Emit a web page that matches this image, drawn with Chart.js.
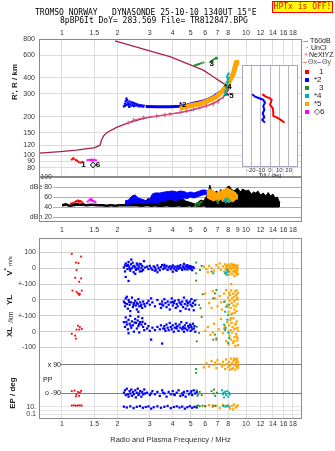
<!DOCTYPE html>
<html><head><meta charset="utf-8">
<script src="https://cdn.jsdelivr.net/npm/chart.js@4.4.1/dist/chart.umd.min.js"></script>
<style>
html,body{margin:0;padding:0;background:#fff;}
#wrap{position:relative;width:335px;height:451px;overflow:hidden;background:#fff;}
#wrap canvas{position:absolute;left:0;top:0;}
.t{position:absolute;white-space:pre;font-family:"Liberation Sans",Arial,sans-serif;font-size:7px;line-height:8px;color:#222;}
.m{position:absolute;white-space:pre;font-family:"DejaVu Sans Mono",monospace;font-size:8px;line-height:9px;color:#000;}
.r{transform:translate(-50%,-50%) rotate(-90deg);}
.sq{position:absolute;width:4px;height:4px;}
.ln{position:absolute;height:1px;}
</style></head><body><div id="wrap">
<canvas id="cMain" width="335" height="451"></canvas>
<canvas id="cDb" width="335" height="451"></canvas>
<canvas id="cLow" width="335" height="451"></canvas>
<canvas id="cTilt" width="335" height="451"></canvas>

<div class="m" style="left:35px;top:8px">TROMSO NORWAY   DYNASONDE 25-10-10 1340UT 15°E</div>
<div class="m" style="left:60px;top:16px">8pBP6It DoY= 283.569 File= TR812847.BPG</div>
<div class="m" style="left:272px;top:1px;width:59px;height:10px;background:#ff0;border:1px solid #f00;color:#f00;text-align:center;line-height:10px">HPTx is OFF!</div>

<div class="ln" style="left:303px;top:41px;width:5px;background:#999"></div>
<div class="t" style="left:310px;top:37px">T60dB</div>
<div class="t" style="left:306px;top:44px">·</div>
<div class="t" style="left:311px;top:44px">UnCl</div>
<div class="t" style="left:304px;top:51px;color:#e0508a">+</div>
<div class="t" style="left:309px;top:51px">NeXtYZ</div>
<div class="ln" style="left:303px;top:62px;width:4px;background:#f08080"></div>
<div class="t" style="left:308px;top:58px;color:#555">Θx</div>
<div class="ln" style="left:317px;top:62px;width:4px;background:#8080f0"></div>
<div class="t" style="left:322px;top:58px;color:#555">Θy</div>
<div class="sq" style="left:305px;top:70px;background:#f00"></div><div class="t" style="left:319px;top:68px;font-size:8px">1</div>
<div class="sq" style="left:305px;top:78px;background:#00f"></div><div class="t" style="left:314px;top:76px;font-size:8px">*2</div>
<div class="sq" style="left:305px;top:86px;background:#228b22"></div><div class="t" style="left:319px;top:84px;font-size:8px">3</div>
<div class="sq" style="left:305px;top:94px;background:#00b0b0"></div><div class="t" style="left:314px;top:92px;font-size:8px">*4</div>
<div class="sq" style="left:305px;top:102px;background:#ffa500"></div><div class="t" style="left:314px;top:100px;font-size:8px">*5</div>
<div class="sq" style="left:305px;top:110px;background:#f0f"></div><div class="t" style="left:314px;top:108px;font-size:8px">◇6</div>

<div class="t r" style="left:15px;top:82px;font-size:8px;font-weight:bold">R', R / km</div>
<div class="t r" style="left:8px;top:266px;font-size:8px;font-weight:bold">V<sup style="font-size:6px">*</sup> <span style="font-size:6px;font-weight:normal">m/s</span></div>
<div class="t r" style="left:10px;top:300px;font-size:8px;font-weight:bold">YL</div>
<div class="t r" style="left:11px;top:317px;font-size:7px">/km</div>
<div class="t r" style="left:10px;top:332px;font-size:8px;font-weight:bold">XL</div>
<div class="t r" style="left:13px;top:393px;font-size:8px;font-weight:bold">EP / deg</div>
<div class="t" style="left:43px;top:376px;font-size:7px">PP</div>
<div class="t" style="left:40px;top:361px;width:21px;background:#fff;text-align:right">x 90</div>
<div class="t" style="left:40px;top:389px;width:21px;background:#fff;text-align:right">o -90</div>
</div>
<script>
// ---------- axes / ticks ----------
const freqTicksTop = [1,1.5,2,3,4,5,6,7,8,10,12,14,16,18];
const freqTicksMid = [1,1.5,2,3,4,5,6,7,8,9,10,12,14,16,18];
const heightTicks = [80,90,100,120,150,200,300,400,600,800];
const dbTicks = [20,40,60,80,100];
const dbTickLabels = ['dBn 20','40','60','dBe 80','100'];
const tiltTicks = [-20,-10,0,10,20];
const lowerTickLabels = ['100','0','+-100','0','+-100','0','-100','x 90','o -90','10.','1','0.1'];

// ---------- main panel: profile & traces ----------
const profileFreq   = [0.75,0.98,1.2,1.51,1.61,1.64,1.68,1.75,1.98,2.25,2.77,3.27,3.86,4.38,5.0,5.62,6.3,6.93,7.4,7.69,8.0,8.05,7.8,7.53,6.64,5.86,4.76,3.86,3.41,1.94];
const profileHeight = [104,107,110,115,120,132,141,150,165,177,194,202,209,215,224,234,246,262,278,294,322,340,352,362,408,459,518,583,612,772];
const nexFreq   = [2.29,2.44,2.77,3.27,3.63,3.86,4.38,4.76,5.17,5.62,6.1,6.64,7.07,7.53];
const nexHeight = [179,188,196,202,206,209,216,222,228,235,242,251,262,285];
const oTraceFreq   = [2.85,3.3,3.86,4.38,4.8,5.17,5.5,5.86,6.2,6.64,7.07,7.3,7.53,7.69];
const oTraceHeight = [240,238,239,241,246,254,259,264,272,285,303,312,321,341];
const oBlob = [[2.17,240],[2.2,252],[2.22,263],[2.24,276],[2.26,268],[2.28,256],[2.3,246],[2.33,262],[2.35,251],[2.38,243],[2.4,258],[2.43,248],[2.46,241],[2.5,252],[2.53,244],[2.56,249],[2.6,241],[2.63,246],[2.67,240],[2.7,245],[2.75,239],[2.78,243],[2.2,243],[2.25,247],[2.32,238],[2.45,255]];
const xTraceFreq   = [4.38,4.8,5.17,5.5,5.86,6.2,6.64,7.0,7.21,7.45,7.69,7.95,8.18,8.4,8.53,8.65,8.73,8.85,8.9];
const xTraceHeight = [232,240,246,250,256,265,277,290,303,316,331,355,384,410,433,460,488,520,549];
const cyanMain  = [[7.7,300],[7.75,318],[7.8,336],[7.9,352],[7.85,370],[7.95,388],[7.9,405],[7.95,420],[8.05,432],[7.72,310],[8.1,345],[7.8,295],[8.0,372],[7.88,326],[8.02,398]];
const greenMain = [[5.28,500],[5.4,505],[5.55,512],[5.7,518],[5.86,525],[6.4,530],[6.5,540],[6.6,550],[6.75,560],[6.9,572],[6.95,565],[5.5,508],[6.45,535],[6.85,568]];
const redMain   = [[1.13,93],[1.16,94],[1.19,92],[1.21,91],[1.23,89],[1.26,88],[1.29,89],[1.15,95]];
const magMain   = [[1.38,92],[1.41,92.5],[1.44,91.5],[1.47,92],[1.5,92.5],[1.53,91.5],[1.45,93]];
const echoLabelText   = ['1','◇6','*2','3','*4','*5'];
const echoLabelFreq   = [1.31,1.51,4.53,6.52,7.97,8.18];
const echoLabelHeight = [85,85,246,518,341,289];

// ---------- tilt inset ----------
const tiltBlueDeg = [-19,-16,-11.5,-7.2,-5.4,-7.2,-6.1,-7.8,-6.1,-8.3,-5.4];
const tiltBlueH   = [298,285,277,269,256,241,225,212,197,188,179];
const tiltRedDeg  = [-8.3,-4.6,0,1.8,0,2.9,3.5,3.5,7.2,10.8,14.3,15.4];
const tiltRedH    = [298,285,277,269,246,232,218,202,197,190,182,179];

// ---------- amplitude panel (dB) ----------
const noiseFreq = [1.0,1.05,1.1,1.15,1.2,1.25,1.3,1.35,1.45,1.55,1.65,1.75,1.85,1.95,2.05,2.15,2.25,2.4,2.55,2.7,2.85,2.95,3.05,3.2,3.35,3.5,3.7,3.85,3.95,4.1,4.3,4.5,4.7,4.9,5.1,5.3,5.5,5.7,5.9,6.1,6.25,6.35,6.5,6.7,6.9,7.1,7.3,7.5,7.7,7.9,8.1,8.3,8.6,9.0,9.3,9.6,10,10.3,10.7,11,11.3,11.6,12,12.4,12.8,13.2,13.6,14,14.4,14.8,15.1,15.3];
const noiseTop  = [45,47,44,46,47,46,47,45,46,45,45,44,45,44,45,45,46,47,48,50,52,58,50,52,50,53,55,60,54,52,56,58,52,50,48,46,50,54,52,62,70,84,72,66,72,68,75,70,72,80,82,76,72,78,70,76,72,74,66,70,68,72,64,68,62,69,62,66,58,60,52,48];
const noiseBottom = [42,43,41,42,43,43,43,42,43,42,42,41,42,41,42,42,42,42,42,41,42,42,41,42,41,41,42,41,41,41,42,41,41,42,41,42,41,41,42,40,40,40,40,40,40,40,40,40,40,40,40,40,40,40,40,40,40,40,40,40,40,40,40,40,40,40,40,40,40,40,40,42];
const blueDbFreq   = [2.2,2.3,2.4,2.5,2.6,2.7,2.8,2.9,3.0,3.1,3.2,3.4,3.6,3.8,4.0,4.2,4.4,4.6,4.8,5.0,5.2,5.4,5.6,5.8,6.0,6.2];
const blueDbTop    = [52,54,62,64,58,56,54,52,56,66,68,68,70,71,72,70,72,71,68,70,68,70,72,74,74,72];
const blueDbBottom = [46,45,47,48,47,48,47,48,50,49,48,50,52,55,54,53,56,58,57,60,58,60,62,64,65,66];
const orangeDbFreq   = [6.1,6.3,6.5,6.7,6.9,7.1,7.3,7.5,7.7,7.9,8.1,8.3,8.5,8.7,8.9,9.05];
const orangeDbTop    = [70,76,74,72,68,70,72,74,76,78,76,74,72,70,66,62];
const orangeDbBottom = [60,56,54,52,55,52,56,50,54,52,48,52,50,54,56,56];
const greenDb = [[5.3,44],[5.35,46],[5.45,48],[5.55,47],[5.65,49],[5.75,50],[5.5,43],[5.6,45],[6.95,52],[7.0,50],[7.05,48]];
const cyanDb  = [[7.6,52],[7.7,56],[7.8,54],[7.9,58],[8.0,55],[8.1,50],[7.75,49],[8.15,53],[7.85,51]];
const redDb   = [[1.12,47],[1.15,48],[1.18,50],[1.2,52],[1.22,53],[1.25,52],[1.27,51],[1.29,49],[1.23,50]];
const magDb   = [[1.38,51],[1.41,54],[1.43,56],[1.45,55],[1.47,52],[1.5,51],[1.52,49],[1.44,53]];

// ---------- lower panel: V* (m/s), YL (km), XL (km), PP (deg), EP (deg) ----------
const redV  = [[1.13,91],[1.27,74],[1.19,36],[1.23,32],[1.2,-11],[1.18,-60],[1.27,-64],[1.24,-85]];
const redYL = [[1.14,59],[1.2,52],[1.22,42],[1.25,38],[1.28,59],[1.24,32]];
const redXL = [[1.22,38],[1.25,30],[1.28,17],[1.2,13],[1.24,13],[1.13,-13],[1.18,-25],[1.19,-44]];
const redPP = [[1.13,-75],[1.17,-72],[1.2,-95],[1.22,-80],[1.25,-85],[1.27,-73],[1.24,-105],[1.19,-108]];
const redEP = [[1.13,20],[1.16,22],[1.19,18],[1.22,20],[1.25,22],[1.28,19]];

const blueV = [[2.17,5],[2.2,-20],[2.22,30],[2.25,15],[2.27,-5],[2.3,40],[2.32,10],[2.35,-15],[2.37,25],[2.4,0],[2.42,35],[2.45,-25],[2.47,15],[2.5,5],[2.52,-10],[2.55,30],[2.57,20],[2.6,-5],[2.62,10],[2.65,-20],[2.68,25],[2.7,0],[2.73,15],[2.76,-10],[2.79,45],[2.82,5],[2.22,-55],[2.3,-80],[2.38,55],[2.5,-35],[2.2,18],[2.28,22],[2.34,-4],[2.44,12],[2.56,-2],[2.64,28],[2.72,-18],
 [2.9,10],[2.95,-5],[3.0,15],[3.05,0],[3.1,-10],[3.15,12],[3.2,5],[3.25,-8],[3.3,18],[3.35,2],[3.4,-12],[3.45,8],[3.5,20],[3.55,-5],[3.6,10],[3.65,0],[3.7,15],[3.75,-10],[3.8,5],[3.85,12],[3.9,-6],[3.95,8],[4.0,18],[4.05,-2],[4.1,10],[4.15,-12],[4.2,4],[4.25,14],[4.3,-4],[4.35,8],[4.4,20],[4.45,0],[4.5,-10],[4.55,12],[4.6,3],[4.65,-6],[4.7,16],[4.75,6],[4.8,-8],[4.85,10],[4.9,0],[4.95,14],[5.0,-4],[5.05,6],[5.1,-12],[5.15,8],[5.2,2],[3.3,-25],[4.0,-22],[4.6,28],[3.6,22],[4.2,-15],[4.8,20],[5.0,12],[3.2,-15]];
const blueYL = [[2.17,-10],[2.2,-40],[2.22,10],[2.25,-25],[2.28,-55],[2.3,0],[2.33,-30],[2.35,-70],[2.38,-15],[2.4,15],[2.43,-45],[2.46,-20],[2.5,-5],[2.52,-35],[2.55,-60],[2.58,-25],[2.6,5],[2.63,-40],[2.66,-15],[2.7,-30],[2.73,-50],[2.76,-10],[2.8,-25],[2.83,-40],[2.25,20],[2.6,-75],[2.2,-20],[2.32,-12],[2.45,-32],[2.55,-18],[2.68,-38],
 [2.9,-20],[2.95,-5],[3.0,-30],[3.05,10],[3.1,-15],[3.2,-40],[3.3,0],[3.4,-25],[3.45,-50],[3.5,-10],[3.55,-35],[3.6,5],[3.65,-20],[3.7,-45],[3.75,-10],[3.8,-30],[3.85,-60],[3.9,-15],[3.95,10],[4.0,-35],[4.05,-20],[4.1,-5],[4.15,-50],[4.2,-25],[4.25,-40],[4.3,0],[4.35,-15],[4.4,-70],[4.45,-30],[4.5,-10],[4.55,-45],[4.6,15],[4.65,-25],[4.7,-55],[4.75,-5],[4.8,-35],[4.85,-20],[4.9,-60],[4.95,-10],[5.0,-30],[5.05,5],[5.1,-40],[5.15,-20],[5.2,-65],[5.25,-5],[5.3,-30],[3.5,-28],[4.0,-12],[4.4,-22],[4.8,-15]];
const blueXL = [[2.17,60],[2.2,30],[2.22,90],[2.25,45],[2.28,15],[2.3,75],[2.33,50],[2.35,100],[2.38,25],[2.4,65],[2.43,40],[2.46,0],[2.5,80],[2.52,55],[2.55,20],[2.58,70],[2.6,35],[2.63,-5],[2.66,60],[2.7,45],[2.73,85],[2.76,30],[2.8,10],[2.83,50],[2.3,-10],[2.6,95],[2.24,62],[2.36,38],[2.48,58],[2.62,48],[2.74,62],
 [2.9,20],[2.95,35],[3.0,5],[3.05,-50],[3.1,25],[3.2,10],[3.3,30],[3.4,15],[3.45,40],[3.5,-75],[3.55,20],[3.6,35],[3.65,5],[3.7,45],[3.75,25],[3.8,10],[3.85,55],[3.9,30],[3.95,15],[4.0,40],[4.05,0],[4.1,25],[4.15,50],[4.2,20],[4.25,35],[4.3,5],[4.35,45],[4.4,25],[4.45,60],[4.5,15],[4.55,30],[4.6,0],[4.65,40],[4.7,20],[4.75,55],[4.8,10],[4.85,35],[4.9,25],[4.95,45],[5.0,5],[5.05,30],[5.1,15],[5.15,50],[5.2,20],[5.25,35],[5.3,0],[3.6,18],[4.2,32],[4.6,22],[5.0,40]];
const bluePP = [[2.17,-85],[2.2,-70],[2.22,-100],[2.25,-60],[2.28,-95],[2.3,-110],[2.33,-75],[2.35,-90],[2.38,-65],[2.4,-105],[2.43,-80],[2.46,-95],[2.5,-70],[2.52,-115],[2.55,-85],[2.58,-60],[2.6,-100],[2.63,-90],[2.66,-75],[2.7,-110],[2.73,-80],[2.76,-95],[2.8,-65],[2.83,-90],
 [2.9,-85],[3.0,-100],[3.1,-75],[3.2,-95],[3.3,-80],[3.4,-105],[3.5,-70],[3.6,-90],[3.7,-110],[3.8,-80],[3.9,-95],[4.0,-75],[4.1,-100],[4.2,-85],[4.3,-70],[4.4,-105],[4.5,-90],[4.6,-80],[4.7,-110],[4.8,-75],[4.9,-95],[5.0,-85],[5.1,-100],[5.2,-70],[5.3,-90],[5.4,-80],[3.05,-90],[3.55,-85],[4.05,-95],[4.55,-100],[5.05,-75]];
const blueEP = [[2.17,10],[2.25,6],[2.35,12],[2.45,4],[2.55,9],[2.65,14],[2.75,5],[2.85,8],[2.95,11],[3.05,3],[3.15,7],[3.3,12],[3.45,5],[3.6,9],[3.75,15],[3.9,4],[4.05,8],[4.2,12],[4.35,6],[4.5,10],[4.65,3],[4.8,7],[4.95,13],[5.1,5],[5.25,9],[5.4,6]];

const greenV  = [[5.36,36],[5.36,-32],[5.36,-78],[5.74,15],[5.62,-11],[6.5,-21],[6.64,-32]];
const greenYL = [[5.82,36],[5.36,0],[5.56,-32],[6.78,42],[6.64,11],[6.9,63],[5.66,-52]];
const greenXL = [[5.74,93],[5.4,30],[5.56,-8],[5.4,-61],[6.64,-50],[6.78,-19],[6.9,-50]];
const greenPP = [[5.4,-70],[5.5,-95],[5.6,-80],[5.75,-100],[6.5,-75],[6.65,-90],[6.8,-105],[6.95,-85],[5.45,-105],[6.7,-65],[5.36,65],[5.36,40]];
const greenEP = [[5.4,15],[5.5,20],[5.6,12],[5.8,18],[6.0,14],[6.6,20],[6.8,16]];

const cyanV  = [[7.69,-32],[7.86,-42],[8.0,-21],[7.9,-10],[7.8,-25]];
const cyanYL = [[7.6,-11],[7.8,-42],[7.7,-74],[8.0,-95],[8.1,-30]];
const cyanXL = [[7.9,76],[7.6,44],[7.75,23],[8.05,-8],[8.1,-40],[8.0,-71],[7.7,10]];
const cyanPP = [[7.4,-70],[7.5,-95],[7.6,-115],[7.7,-80],[7.8,-100],[7.9,-75],[8.0,-110],[8.1,-85],[8.15,-95],[7.55,-85]];
const cyanEP = [[7.5,15],[7.7,12],[7.9,18],[8.1,10]];

const orangeV  = [[5.9,10],[6.1,-5],[6.3,15],[6.5,0],[6.7,-15],[6.9,20],[7.1,5],[7.3,-10],[7.5,12],[7.6,-20],[7.7,25],[7.75,-5],[7.8,10],[7.85,-30],[7.9,18],[7.95,2],[8.0,-12],[8.05,24],[8.1,-40],[8.15,8],[8.2,-22],[8.25,15],[8.3,-5],[8.35,28],[8.4,-35],[8.45,0],[8.5,20],[8.55,-18],[8.6,10],[8.65,-48],[8.7,22],[8.75,-8],[8.8,14],[8.85,-28],[8.9,5],[8.95,-15],[9.0,18],[9.05,-35],[8.3,-100],[6.2,-25],[7.2,30],[8.7,-25],[8.9,-40],[8.5,5],[8.8,-5],[8.6,-20],[9.0,0]];
const orangeYL = [[6.0,40],[6.3,-20],[6.6,55],[6.8,10],[7.0,-40],[7.2,25],[7.4,-60],[7.6,40],[7.7,-10],[7.8,62],[7.9,-30],[8.0,15],[8.05,-75],[8.1,45],[8.15,-5],[8.2,30],[8.25,-50],[8.3,60],[8.35,-20],[8.4,10],[8.45,-85],[8.5,40],[8.55,-35],[8.6,20],[8.65,-60],[8.7,55],[8.75,0],[8.8,-40],[8.85,30],[8.9,-70],[8.95,15],[9.0,-25],[9.05,45],[8.3,-90],[8.6,-10],[8.9,60],[7.3,-15],[6.5,-50],[8.0,-45],[8.7,-80],[9.0,5],[8.8,35]];
const orangeXL = [[6.0,5],[6.2,30],[6.4,-20],[6.7,50],[6.9,-40],[7.1,15],[7.3,80],[7.5,-10],[7.7,35],[7.8,-60],[7.9,60],[8.0,0],[8.05,-80],[8.1,40],[8.15,-25],[8.2,75],[8.25,10],[8.3,-50],[8.35,55],[8.4,-5],[8.45,30],[8.5,-70],[8.55,85],[8.6,15],[8.65,-35],[8.7,45],[8.75,-90],[8.8,20],[8.85,-15],[8.9,65],[8.95,-55],[9.0,25],[9.05,-85],[9.05,5],[8.6,-60],[8.9,-30],[7.6,20],[8.3,85],[6.6,-5],[9.0,-40],[8.8,50]];
const orangePP = [[5.9,75],[6.1,100],[6.3,80],[6.5,115],[6.7,90],[6.9,70],[7.0,120],[7.2,95],[7.4,80],[7.5,110],[7.7,65],[7.8,125],[7.9,95],[8.0,75],[8.1,110],[8.2,85],[8.3,130],[8.4,100],[8.5,70],[8.55,115],[8.6,90],[8.7,125],[8.75,60],[8.8,105],[8.85,80],[8.9,120],[8.95,95],[9.0,70],[9.05,110],[8.2,60],[8.6,130],[7.6,90],[6.8,105],[8.4,65],[8.95,130],[9.05,85]];
const orangeEP = [[6.0,12],[6.3,25],[6.6,8],[6.9,18],[7.2,4],[7.5,30],[7.8,10],[8.0,20],[8.2,3],[8.4,15],[8.6,40],[8.8,6],[9.0,22],[8.5,2],[8.9,10]];

// ---------- colours ----------
const C = {red:'#ff0000', blue:'#0000ff', green:'#228b22', cyan:'#00b0b0', orange:'#ffa500', mag:'#ff00ff', prof:'#a8204a', nex:'#e0508a'};

// ---------- helpers ----------
const P  = arr => arr.map(([x,y]) => ({x, y}));
const XY = (xs, ys) => xs.map((x,i) => ({x, y: ys[i]}));
const font7 = {family:'Liberation Sans', size:7};
const tickColor = '#333';
const setTicks = vals => (scale => { scale.ticks = vals.map(v => ({value: v})); });
const fixW = w => (s => { s.width = w; });
const fixH = h => (s => { s.height = h; });
// lower panel row layout (units of 100 on one shared axis)
const rowBase = {V:0, YL:-2, XL:-4, PP:-7};
const epU = e => -8.97 + 0.24 * Math.log10(e);
const lowerTickVals = [1,0,-1,-2,-3,-4,-5,rowBase.PP+0.9,rowBase.PP-0.9,epU(10),epU(1),epU(0.1)];

const framePlugin = {
  id: 'frame',
  beforeDraw(chart, args, o) {
    if (!o || !o.fill) return;
    const a = chart.chartArea, ctx = chart.ctx;
    ctx.save(); ctx.fillStyle = o.fill;
    ctx.fillRect(a.left, a.top, a.right - a.left, a.bottom - a.top);
    ctx.restore();
  },
  afterDatasetsDraw(chart, args, o) {
    const a = chart.chartArea, ctx = chart.ctx;
    const l = (o && o.left !== undefined) ? o.left : a.left;
    ctx.save();
    ctx.strokeStyle = (o && o.color) || '#8a8a8a'; ctx.lineWidth = 1;
    ctx.strokeRect(Math.round(l) + 0.5, Math.round(a.top) + 0.5, Math.round(a.right - l) - 1, Math.round(a.bottom - a.top) - 1);
    ctx.restore();
  }
};
const textPlugin = {
  id: 'dataText',
  afterDatasetsDraw(chart, args, o) {
    if (!o || !o.text) return;
    const {ctx, scales: {x, y}} = chart;
    ctx.save();
    ctx.font = 'bold 8px "Liberation Sans"'; ctx.fillStyle = '#000';
    ctx.textAlign = 'center'; ctx.textBaseline = 'middle';
    o.text.forEach((t, i) => ctx.fillText(t, x.getPixelForValue(o.f[i]), y.getPixelForValue(o.h[i])));
    ctx.restore();
  }
};
const base = {
  responsive: false, animation: false, events: [],
  plugins: {legend: {display: false}, tooltip: {enabled: false}}
};
const pt = (data, color, r, order) => ({data, backgroundColor: color, borderWidth: 0, pointStyle: 'rect', pointRadius: r, order});
const line = (data, color, w, order, extra) => Object.assign({data, borderColor: color, backgroundColor: color, borderWidth: w, pointRadius: 0, showLine: true, tension: 0, order}, extra || {});

// ---------- main chart ----------
new Chart(document.getElementById('cMain'), {
  type: 'scatter',
  data: {datasets: [
    line(XY(profileFreq, profileHeight), C.prof, 1.3, 7),
    line(XY(nexFreq, nexHeight), C.nex, 1, 6, {pointStyle: 'line', pointRotation: 90, pointRadius: 2.2, pointBorderColor: C.nex, pointBorderWidth: 1}),
    pt(P(greenMain), C.green, 1.4, 5),
    line(XY(oTraceFreq, oTraceHeight), C.blue, 3, 4),
    pt(P(oBlob), C.blue, 1.6, 4),
    line(XY(xTraceFreq, xTraceHeight), C.orange, 5, 3),
    pt(P(cyanMain), C.cyan, 1.5, 2),
    pt(P(redMain), C.red, 1.4, 1),
    pt(P(magMain), C.mag, 1.4, 1)
  ]},
  options: Object.assign({}, base, {
    layout: {padding: {left: 0, right: 33, top: 25, bottom: 274}},
    plugins: Object.assign({}, base.plugins, {
      frame: {color: '#8a8a8a'},
      dataText: {text: echoLabelText, f: echoLabelFreq, h: echoLabelHeight}
    }),
    scales: {
      x: {type: 'logarithmic', position: 'top', min: 0.75, max: 20.15,
          afterBuildTicks: setTicks(freqTicksTop), afterFit: fixH(14),
          grid: {color: '#dcdcdc', drawTicks: false}, border: {display: false},
          ticks: {font: font7, color: tickColor, padding: 2, autoSkip: false, maxRotation: 0, callback: v => String(v)}},
      y: {type: 'logarithmic', min: 68, max: 800,
          afterBuildTicks: setTicks(heightTicks), afterFit: fixW(39),
          grid: {color: '#dcdcdc', drawTicks: false}, border: {display: false},
          ticks: {font: font7, color: tickColor, padding: 4, autoSkip: false, callback: v => String(v)}}
    }
  }),
  plugins: [framePlugin, textPlugin]
});

// ---------- tilt inset ----------
new Chart(document.getElementById('cTilt'), {
  type: 'scatter',
  data: {datasets: [
    line(XY(tiltRedDeg, tiltRedH), C.red, 2, 1),
    line(XY(tiltBlueDeg, tiltBlueH), C.blue, 2, 2)
  ]},
  options: Object.assign({}, base, {
    layout: {padding: {left: 242, right: 37, top: 65, bottom: 271}},
    plugins: Object.assign({}, base.plugins, {frame: {color: '#a4a4c0', fill: '#ffffff'}}),
    scales: {
      x: {type: 'linear', min: -30, max: 30, afterBuildTicks: setTicks(tiltTicks), afterFit: fixH(13),
          grid: {color: '#b8b8cc', drawTicks: false}, border: {display: false},
          ticks: {font: {family: 'Liberation Sans', size: 6}, color: tickColor, padding: 0, autoSkip: false, maxRotation: 0},
          title: {display: true, text: 'Tilt / deg', font: {family: 'Liberation Sans', size: 6}, color: tickColor, padding: {top: 0, bottom: 1}}},
      y: {type: 'logarithmic', min: 81, max: 502, display: false}
    }
  }),
  plugins: [framePlugin]
});

// ---------- dB panel ----------
new Chart(document.getElementById('cDb'), {
  type: 'scatter',
  data: {datasets: [
    line(XY(noiseFreq, noiseBottom), '#000', 1, 10),
    line(XY(noiseFreq, noiseTop), '#000', 1, 10, {fill: '-1'}),
    line(XY(blueDbFreq, blueDbBottom), C.blue, 1, 5),
    line(XY(blueDbFreq, blueDbTop), C.blue, 1, 5, {fill: '-1'}),
    line(XY(orangeDbFreq, orangeDbBottom), C.orange, 1, 4),
    line(XY(orangeDbFreq, orangeDbTop), C.orange, 1, 4, {fill: '-1'}),
    pt(P(greenDb), C.green, 1.3, 1),
    pt(P(cyanDb), C.cyan, 1.3, 1),
    pt(P(redDb), C.red, 1.4, 1),
    pt(P(magDb), C.mag, 1.4, 1)
  ]},
  options: Object.assign({}, base, {
    layout: {padding: {left: 0, right: 33, top: 177, bottom: 213}},
    plugins: Object.assign({}, base.plugins, {frame: {color: '#8a8a8a', left: 39}}),
    scales: {
      x: {type: 'logarithmic', position: 'bottom', min: Math.pow(10, -0.0489), max: 20.15,
          afterBuildTicks: setTicks(freqTicksMid), afterFit: fixH(16),
          grid: {display: false, drawTicks: false}, border: {display: false},
          ticks: {font: font7, color: tickColor, padding: 4, autoSkip: false, maxRotation: 0, callback: v => String(v)}},
      y: {type: 'linear', min: 10, max: 100,
          afterBuildTicks: setTicks(dbTicks), afterFit: fixW(53),
          grid: {drawTicks: false, color: c => c.tick.value === 20 ? '#9c9ce8' : (c.tick.value === 100 ? 'rgba(0,0,0,0)' : '#b0b0b0')},
          border: {display: false},
          ticks: {font: font7, color: tickColor, padding: 1, autoSkip: false, callback: v => dbTickLabels[dbTicks.indexOf(v)]}}
    }
  }),
  plugins: [framePlugin]
});

// ---------- lower panel ----------
function lowerPoints(s) {
  const out = [];
  ['V', 'YL', 'XL', 'PP'].forEach(k => (s[k] || []).forEach(([f, v]) => out.push({x: f, y: rowBase[k] + v / 100})));
  (s.EP || []).forEach(([f, e]) => out.push({x: f, y: epU(e)}));
  return out;
}
const lowerSets = [
  {c: C.red, r: 1.3, V: redV, YL: redYL, XL: redXL, PP: redPP, EP: redEP},
  {c: C.cyan, r: 1.4, V: cyanV, YL: cyanYL, XL: cyanXL, PP: cyanPP, EP: cyanEP},
  {c: C.green, r: 1.3, V: greenV, YL: greenYL, XL: greenXL, PP: greenPP, EP: greenEP},
  {c: C.orange, r: 1.6, V: orangeV, YL: orangeYL, XL: orangeXL, PP: orangePP, EP: orangeEP},
  {c: C.blue, r: 1.6, V: blueV, YL: blueYL, XL: blueXL, PP: bluePP, EP: blueEP}
];
const lowerLabel = v => { const i = lowerTickVals.findIndex(t => Math.abs(t - v) < 1e-6); return i < 0 ? '' : lowerTickLabels[i]; };
new Chart(document.getElementById('cLow'), {
  type: 'scatter',
  data: {datasets: lowerSets.map((s, i) => pt(lowerPoints(s), s.c, s.r, i))},
  options: Object.assign({}, base, {
    layout: {padding: {left: 0, right: 33, top: 238, bottom: 5}},
    plugins: Object.assign({}, base.plugins, {frame: {color: '#8a8a8a'}}),
    scales: {
      x: {type: 'logarithmic', position: 'bottom', min: 0.75, max: 20.15,
          afterBuildTicks: setTicks(freqTicksTop), afterFit: fixH(27),
          grid: {color: '#dedede', drawTicks: false}, border: {display: false},
          ticks: {font: font7, color: tickColor, padding: 1, autoSkip: false, maxRotation: 0, callback: v => String(v)},
          title: {display: true, text: 'Radio and Plasma Frequency / MHz', font: {family: 'Liberation Sans', size: 7.5}, color: tickColor, padding: {top: 0, bottom: 2}}},
      y: {type: 'linear', min: -9.51, max: 1.91,
          afterBuildTicks: setTicks(lowerTickVals), afterFit: fixW(39),
          grid: {drawTicks: false, color: c => {
            const v = c.tick.value;
            if (Math.abs(v - (rowBase.PP + 0.9)) < 1e-6 || Math.abs(v - (rowBase.PP - 0.9)) < 1e-6) return '#808080';
            if (v < -8) return '#e4e4e4';
            return '#cfcfcf'; }},
          border: {display: false},
          ticks: {font: font7, color: tickColor, padding: 3, autoSkip: false,
                  callback: v => { const s = lowerLabel(v); return (s === 'x 90' || s === 'o -90' || s === '1') ? '' : s; }}}
    }
  }),
  plugins: [framePlugin]
});
</script></body></html>
